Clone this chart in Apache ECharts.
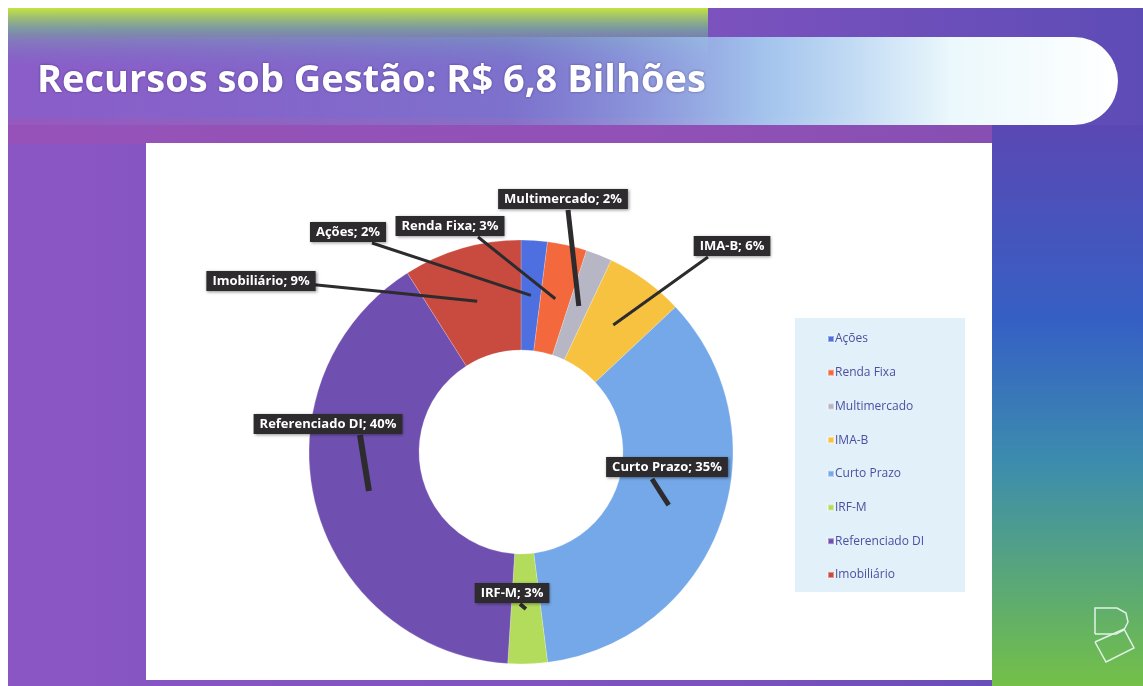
<!DOCTYPE html>
<html>
<head>
<meta charset="utf-8">
<title>Recursos sob Gestão</title>
<script src="https://cdn.jsdelivr.net/npm/echarts@6/dist/echarts.min.js"></script>
<style>
html,body{margin:0;padding:0;background:#fff;}
#main{width:1143px;height:686px;}
</style>
</head>
<body>
<div id="main"></div>
<script>
// dados do gráfico (% dos recursos sob gestão)
var categorias = ['Ações', 'Renda Fixa', 'Multimercado', 'IMA-B', 'Curto Prazo', 'IRF-M', 'Referenciado DI', 'Imobiliário'];
var valores = [2, 3, 2, 6, 35, 3, 40, 9];
var cores = ['#4d6fe0', '#f3683c', '#b6b6c4', '#f7c23f', '#74a8e8', '#b4dc5c', '#6f50b0', '#c94a3e'];
var titulo = 'Recursos sob Gestão: R$ 6,8 Bilhões';

// posição das caixas de rótulo (centro), ponto de saída da seta e espessura da seta
var rotuloPos = [[348, 232], [450, 226], [563, 199], [732, 246], [667, 467], [512, 593], [328, 424], [261, 281]];
var setaSaida = [[372, 243], [478, 237], [568, 210], [708, 257], [652, 479], [520, 604], [360, 435], [307, 284]];
var setaLarg = [3, 3, 5, 3, 5, 4, 6, 3];

var chartDom = document.getElementById('main');
var myChart = echarts.init(chartDom);

var dados = [];
var dadosRotulo = [];
for (var i = 0; i < categorias.length; i++) {
	dados.push({ name: categorias[i], value: valores[i], itemStyle: { color: cores[i] } });
	dadosRotulo.push({ name: categorias[i], value: valores[i], labelLine: { lineStyle: { width: setaLarg[i] } } });
}

// ponta da seta: meio da fatia, no meio do anel (layout do próprio echarts)
function pontaSeta(idx) {
	var lay = myChart.getModel().getSeriesByIndex(0).getData().getItemLayout(idx);
	var ang = (lay.startAngle + lay.endAngle) / 2;
	var rm = (lay.r + lay.r0) / 2;
	return [lay.cx + rm * Math.cos(ang), lay.cy + rm * Math.sin(ang)];
}

var option = {
	animation: false,
	backgroundColor: '#ffffff',
	title: {
		text: titulo,
		left: 32,
		top: 57,
		textStyle: {
			color: '#ffffff',
			fontSize: 38,
			fontWeight: 'bold',
			fontFamily: 'Open Sans',
			textShadowColor: 'rgba(40,20,80,0.5)',
			textShadowBlur: 3
		}
	},
	graphic: [
		// fundo roxo do slide
		{ type: 'rect', z: -10, shape: { x: 8, y: 8, width: 1135, height: 678 },
		  style: { fill: { type: 'linear', x: 0, y: 0, x2: 1, y2: 0, colorStops: [
			{ offset: 0, color: '#8a56c4' }, { offset: 0.6, color: '#7d52be' }, { offset: 1, color: '#5e4cb6' }] } } },
		// faixa verde-amarela no topo
		{ type: 'rect', z: -9, shape: { x: 8, y: 8, width: 700, height: 60 },
		  style: { fill: { type: 'linear', x: 0, y: 0, x2: 0, y2: 1, colorStops: [
			{ offset: 0, color: 'rgba(196,228,64,1)' }, { offset: 0.35, color: 'rgba(120,180,150,0.7)' }, { offset: 1, color: 'rgba(120,110,200,0)' }] } } },
		// lateral direita: roxo -> azul -> verde
		{ type: 'rect', z: -9, shape: { x: 992, y: 125, width: 151, height: 561 },
		  style: { fill: { type: 'linear', x: 0, y: 0, x2: 0, y2: 1, colorStops: [
			{ offset: 0, color: '#5a48b4' }, { offset: 0.35, color: '#3560c4' }, { offset: 0.6, color: '#3c8cae' }, { offset: 1, color: '#74c048' }] } } },
		// faixa magenta abaixo do título
		{ type: 'rect', z: -8, shape: { x: 8, y: 118, width: 984, height: 26 },
		  style: { fill: 'rgba(160,80,175,0.55)' } },
		// faixa do título (pílula)
		{ type: 'rect', z: -7, shape: { x: 8, y: 37, width: 1110, height: 88, r: [0, 44, 44, 0] },
		  style: { fill: { type: 'linear', x: 0, y: 0, x2: 1, y2: 0, colorStops: [
			{ offset: 0, color: 'rgba(140,120,215,0.2)' }, { offset: 0.45, color: 'rgba(120,150,220,0.45)' },
			{ offset: 0.68, color: 'rgba(170,215,245,0.85)' }, { offset: 0.85, color: 'rgba(235,248,252,1)' }, { offset: 1, color: '#ffffff' }] } } },
		// painel branco
		{ type: 'rect', z: -6, shape: { x: 146, y: 143, width: 846, height: 537 },
		  style: { fill: '#ffffff' } },
		// fundo da legenda
		{ type: 'rect', z: -5, shape: { x: 795, y: 318, width: 170, height: 274 },
		  style: { fill: '#e2f1f9' } },
		// logo
		{ type: 'polyline', z: 5, shape: { points: [[1095, 634], [1095, 608], [1117, 608], [1126, 613], [1128, 622], [1124, 630], [1116, 634], [1095, 634]] },
		  style: { fill: null, stroke: '#dff3e6', lineWidth: 1.5 } },
		{ type: 'polyline', z: 5, shape: { points: [[1095, 642], [1124, 629], [1134, 648], [1106, 662], [1095, 642]] },
		  style: { fill: null, stroke: '#dff3e6', lineWidth: 1.5 } }
	],
	legend: {
		orient: 'vertical',
		left: 822,
		top: 327,
		itemWidth: 6,
		itemHeight: 6,
		itemGap: 19.7,
		icon: 'rect',
		data: categorias,
		textStyle: { color: '#4a4fa2', fontSize: 12, fontFamily: 'Open Sans', lineHeight: 14, padding: [0, 0, 0, -4] }
	},
	series: [
		{
			name: 'Recursos',
			type: 'pie',
			z: 2,
			center: [521, 452],
			radius: [102, 212],
			startAngle: 90,
			clockwise: true,
			label: { show: false },
			labelLine: { show: false },
			emphasis: { disabled: true },
			itemStyle: { borderColor: 'rgba(255,255,255,0.4)', borderWidth: 0.5 },
			data: dados
		},
		{
			// mesma rosca, transparente, só para rótulos e setas por cima das fatias
			name: 'Rótulos',
			type: 'pie',
			z: 3,
			silent: true,
			legendHoverLink: false,
			center: [521, 452],
			radius: [102, 212],
			startAngle: 90,
			clockwise: true,
			avoidLabelOverlap: false,
			itemStyle: { color: 'rgba(0,0,0,0)', borderWidth: 0 },
			label: {
				show: true,
				position: 'outside',
				formatter: '{b}; {c}%',
				color: '#ffffff',
				fontSize: 13,
				fontWeight: 'bold',
				fontFamily: 'Open Sans',
				backgroundColor: '#2d2b2e',
				padding: [4, 6, 3, 6],
				shadowColor: 'rgba(0,0,0,0.45)',
				shadowBlur: 3,
				shadowOffsetX: 1,
				shadowOffsetY: 1
			},
			labelLine: {
				show: true,
				lineStyle: { color: '#2d2b2e', width: 3, opacity: 1 }
			},
			labelLayout: function (params) {
				var i = params.dataIndex;
				var p = pontaSeta(i);
				var s = setaSaida[i];
				return {
					x: rotuloPos[i][0],
					y: rotuloPos[i][1],
					align: 'center',
					verticalAlign: 'middle',
					labelLinePoints: [p, [(p[0] + s[0]) / 2, (p[1] + s[1]) / 2], s]
				};
			},
			emphasis: { disabled: true },
			data: dadosRotulo
		}
	]
};

myChart.setOption(option);
window.addEventListener('resize', function () {
	myChart.resize();
});
</script>
</body>
</html>
